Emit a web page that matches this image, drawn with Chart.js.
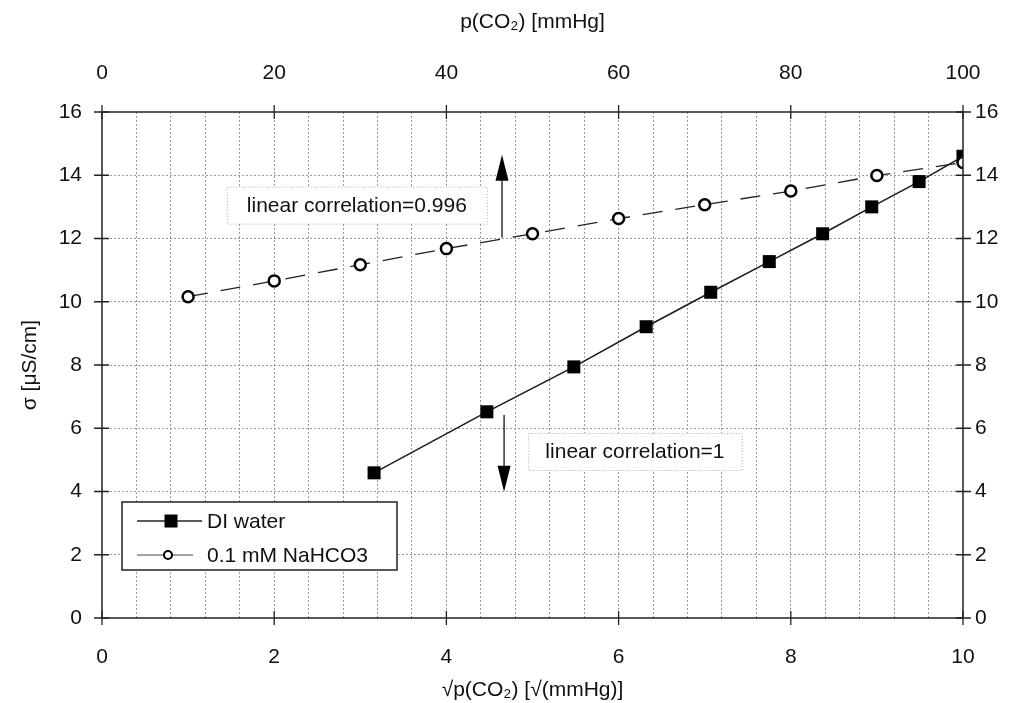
<!DOCTYPE html>
<html><head><meta charset="utf-8">
<script src="https://cdn.jsdelivr.net/npm/chart.js@4.4.1/dist/chart.umd.min.js"></script>
<style>html,body{margin:0;padding:0;background:#fff}#wrap{width:1014px;height:703px;position:relative}</style>
</head><body><div id="wrap"><canvas id="c"></canvas></div>
<script>
// ---- data ----
const sqrtP_DI = [3.16, 4.47, 5.48, 6.32, 7.07, 7.75, 8.37, 8.94, 9.49, 10.0];
const sigma_DI = [4.59, 6.52, 7.94, 9.21, 10.30, 11.27, 12.15, 13.00, 13.80, 14.60];
const sqrtP_Na = [1, 2, 3, 4, 5, 6, 7, 8, 9, 10];
const sigma_Na = [10.16, 10.66, 11.17, 11.68, 12.15, 12.63, 13.07, 13.50, 13.99, 14.40];
const seriesNames = ['DI water', '0.1 mM NaHCO3'];
const bottomTickValues = [0, 2, 4, 6, 8, 10];
const topTickValues = [0, 20, 40, 60, 80, 100];
const yTickValues = [0, 2, 4, 6, 8, 10, 12, 14, 16];
const annotationTexts = ['linear correlation=0.996', 'linear correlation=1'];

const FONT = "'Liberation Sans', Arial, Helvetica, sans-serif";
const FS = 21;
const INK = '#111';
const GRID = '#9a9a9a';

const annotations = {
  boxes: [
    {text: annotationTexts[0], x0: 1.45, x1: 4.47, y0: 12.47, y1: 13.64},
    {text: annotationTexts[1], x0: 4.95, x1: 7.43, y0: 4.68, y1: 5.85}
  ],
  arrows: [
    {x: 4.646, yFrom: 12.03, yTo: 14.65},
    {x: 4.67, yFrom: 6.42, yTo: 3.99}
  ]
};

function toPts(xs, ys) { return xs.map((x, i) => ({x: x, y: ys[i]})); }

const decoPlugin = {
  id: 'deco',
  afterDraw(chart) {
    const ctx = chart.ctx;
    const sx = chart.scales.x, sy = chart.scales.y, sx2 = chart.scales.x2, sy2 = chart.scales.y2;
    const ca = chart.chartArea;
    ctx.save();
    ctx.setLineDash([]);
    // frame
    ctx.strokeStyle = '#222';
    ctx.lineWidth = 1.5;
    ctx.strokeRect(ca.left, ca.top, ca.right - ca.left, ca.bottom - ca.top);
    // tick marks crossing axes
    ctx.lineWidth = 1.3;
    ctx.beginPath();
    bottomTickValues.forEach(v => { const p = sx.getPixelForValue(v); ctx.moveTo(p, ca.bottom - 7); ctx.lineTo(p, ca.bottom + 7); });
    topTickValues.forEach(v => { const p = sx2.getPixelForValue(v); ctx.moveTo(p, ca.top - 7); ctx.lineTo(p, ca.top + 7); });
    yTickValues.forEach(v => { const p = sy.getPixelForValue(v); ctx.moveTo(ca.left - 8, p); ctx.lineTo(ca.left + 7, p); });
    yTickValues.forEach(v => { const p = sy2.getPixelForValue(v); ctx.moveTo(ca.right - 7, p); ctx.lineTo(ca.right + 8, p); });
    ctx.stroke();

    // annotation boxes
    ctx.font = FS + 'px ' + FONT;
    ctx.textAlign = 'center';
    ctx.textBaseline = 'middle';
    annotations.boxes.forEach(b => {
      const x0 = sx.getPixelForValue(b.x0), x1 = sx.getPixelForValue(b.x1);
      const y0 = sy.getPixelForValue(b.y1), y1 = sy.getPixelForValue(b.y0);
      ctx.fillStyle = '#fff';
      ctx.fillRect(x0, y0, x1 - x0, y1 - y0);
      ctx.strokeStyle = '#aaa';
      ctx.lineWidth = 1;
      ctx.setLineDash([1, 2]);
      ctx.strokeRect(x0 + 0.5, y0 + 0.5, x1 - x0, y1 - y0);
      ctx.setLineDash([]);
      ctx.fillStyle = INK;
      ctx.fillText(b.text, (x0 + x1) / 2, (y0 + y1) / 2 + 1);
    });

    // arrows
    annotations.arrows.forEach(a => {
      const px = sx.getPixelForValue(a.x);
      const pf = sy.getPixelForValue(a.yFrom), pt = sy.getPixelForValue(a.yTo);
      const dir = pt < pf ? -1 : 1;
      const headLen = 26, hw = 6.5;
      ctx.strokeStyle = '#222';
      ctx.lineWidth = 1.4;
      ctx.beginPath();
      ctx.moveTo(px, pf);
      ctx.lineTo(px, pt - dir * headLen);
      ctx.stroke();
      ctx.fillStyle = '#000';
      ctx.beginPath();
      ctx.moveTo(px, pt);
      ctx.lineTo(px - hw, pt - dir * headLen);
      ctx.lineTo(px + hw, pt - dir * headLen);
      ctx.closePath();
      ctx.fill();
    });

    // legend
    const lx = 122, ly = 502, lw = 275, lh = 68;
    ctx.fillStyle = '#fff';
    ctx.fillRect(lx, ly, lw, lh);
    ctx.strokeStyle = '#222';
    ctx.lineWidth = 1.5;
    ctx.strokeRect(lx, ly, lw, lh);
    let ry = 521;
    ctx.strokeStyle = '#222';
    ctx.lineWidth = 1.4;
    ctx.beginPath(); ctx.moveTo(137, ry); ctx.lineTo(202, ry); ctx.stroke();
    ctx.fillStyle = '#000';
    ctx.fillRect(171 - 6.5, ry - 6.5, 13, 13);
    ctx.fillStyle = INK;
    ctx.textAlign = 'left';
    ctx.fillText(seriesNames[0], 207, ry + 1);
    ry = 555;
    ctx.strokeStyle = '#444';
    ctx.lineWidth = 1;
    ctx.beginPath(); ctx.moveTo(137, ry); ctx.lineTo(193, ry); ctx.stroke();
    ctx.fillStyle = '#fff';
    ctx.strokeStyle = '#000';
    ctx.lineWidth = 2;
    ctx.beginPath(); ctx.arc(168, ry, 4, 0, Math.PI * 2); ctx.fill(); ctx.stroke();
    ctx.fillStyle = INK;
    ctx.fillText(seriesNames[1], 207, ry + 1);
    ctx.restore();
  }
};

const hideEdge = (lo, hi) => ctx => (ctx.tick && (ctx.tick.value <= lo + 1e-9 || ctx.tick.value >= hi - 1e-9)) ? 'rgba(0,0,0,0)' : GRID;

new Chart(document.getElementById('c'), {
  type: 'scatter',
  data: {
    datasets: [
      {
        label: seriesNames[0],
        data: toPts(sqrtP_DI, sigma_DI),
        showLine: true,
        borderColor: '#1a1a1a',
        borderWidth: 1.5,
        pointStyle: 'rect',
        pointRadius: 9.2,
        pointBackgroundColor: '#000',
        pointBorderColor: '#000',
        pointBorderWidth: 0,
        xAxisID: 'x', yAxisID: 'y', order: 2
      },
      {
        label: seriesNames[1],
        data: toPts(sqrtP_Na, sigma_Na),
        showLine: true,
        borderColor: '#222',
        borderWidth: 1.3,
        borderDash: [20, 13],
        pointStyle: 'circle',
        pointRadius: 5.5,
        pointBackgroundColor: '#fff',
        pointBorderColor: '#000',
        pointBorderWidth: 2.5,
        xAxisID: 'x', yAxisID: 'y', order: 1
      }
    ]
  },
  options: {
    responsive: true,
    maintainAspectRatio: false,
    animation: false,
    events: [],
    layout: {padding: 0},
    plugins: {legend: {display: false}, tooltip: {enabled: false}},
    scales: {
      x: {
        type: 'linear', position: 'bottom', min: 0, max: 10,
        afterFit(s) { s.height = 85; },
        grid: {color: hideEdge(0, 10), lineWidth: 1, drawTicks: false},
        border: {display: false, dash: [2, 2]},
        ticks: {
          stepSize: 0.4, autoSkip: false, maxRotation: 0, padding: 27,
          color: INK, font: {family: FONT, size: FS},
          callback: v => bottomTickValues.some(t => Math.abs(t - v) < 1e-6) ? String(Math.round(v)) : ''
        },
        title: {display: true, text: '√p(CO₂) [√(mmHg)]', color: INK, font: {family: FONT, size: FS}, padding: {top: 0, bottom: 0}}
      },
      x2: {
        type: 'linear', position: 'top', min: 0, max: 100,
        afterFit(s) { s.height = 112; },
        grid: {display: true, drawOnChartArea: false, drawTicks: false},
        border: {display: false},
        ticks: {
          stepSize: 20, autoSkip: false, maxRotation: 0, padding: 26,
          color: INK, font: {family: FONT, size: FS},
          callback: v => topTickValues.includes(v) ? String(v) : ''
        },
        title: {display: true, text: 'p(CO₂) [mmHg]', color: INK, font: {family: FONT, size: FS}, padding: {top: 10, bottom: 0}}
      },
      y: {
        type: 'linear', position: 'left', min: 0, max: 16,
        afterFit(s) { s.width = 102; },
        grid: {color: hideEdge(0, 16), lineWidth: 1, drawTicks: false},
        border: {display: false, dash: [2, 2]},
        ticks: {
          stepSize: 2, autoSkip: false, padding: 20,
          color: INK, font: {family: FONT, size: FS},
          callback: v => yTickValues.includes(v) ? String(v) : ''
        },
        title: {display: true, text: 'σ [μS/cm]', color: INK, font: {family: FONT, size: FS}, padding: {top: 18, bottom: 0}}
      },
      y2: {
        type: 'linear', position: 'right', min: 0, max: 16,
        afterFit(s) { s.width = 51; },
        grid: {display: true, drawOnChartArea: false, drawTicks: false},
        border: {display: false},
        ticks: {
          stepSize: 2, autoSkip: false, padding: 12,
          color: INK, font: {family: FONT, size: FS},
          callback: v => yTickValues.includes(v) ? String(v) : ''
        }
      }
    }
  },
  plugins: [decoPlugin]
});
</script>
</body></html>
